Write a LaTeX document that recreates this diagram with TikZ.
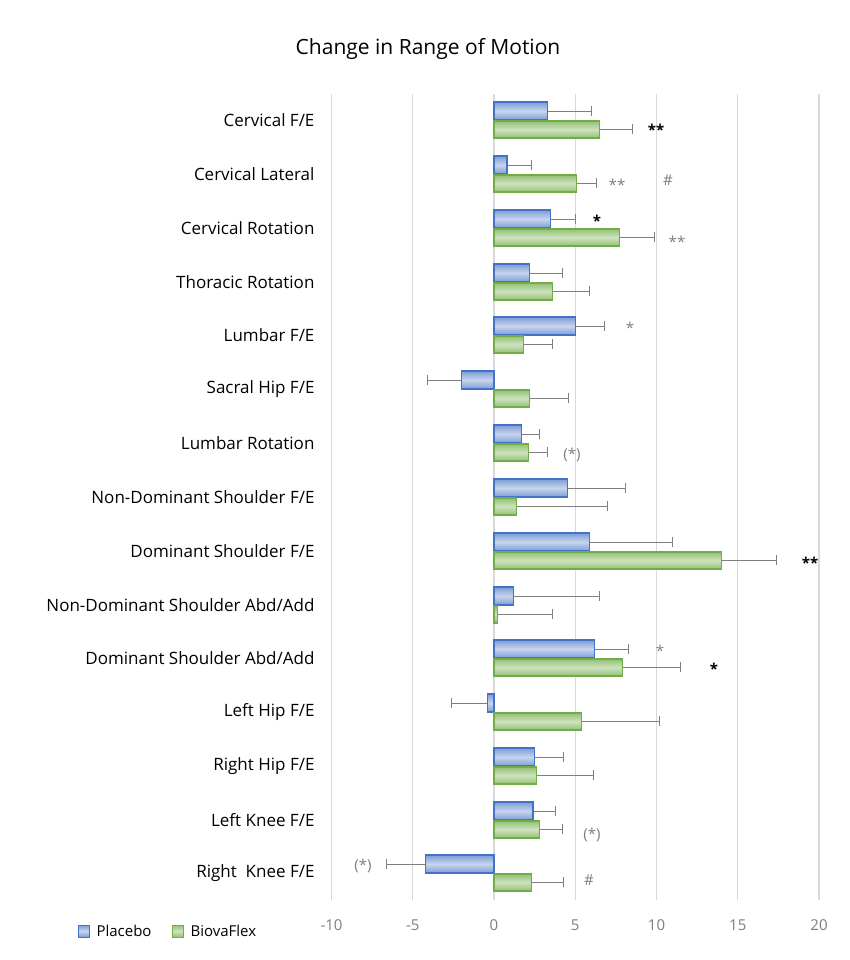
\documentclass[tikz,border=0pt]{standalone}
\usepackage{fontspec}
\setmainfont{Open Sans}
\definecolor{pb}{HTML}{4472C4}
\definecolor{gb}{HTML}{70AD47}
\definecolor{gr}{HTML}{7F7F7F}
\definecolor{gl}{HTML}{D9D9D9}
\tikzset{
 pbar/.style={draw=pb,line width=1.2pt,top color=pb!70,bottom color=pb!70,middle color=pb!30},
 gbar/.style={draw=gb,line width=1.2pt,top color=gb!75,bottom color=gb!75,middle color=gb!35},
 ebar/.style={draw=gr,line width=0.9pt},
 lab/.style={anchor=east,font=\fontsize{17}{20}\selectfont,text=black},
 sig/.style={font=\fontsize{15}{16}\selectfont},
}
\begin{document}
\begin{tikzpicture}[x=1pt,y=-1pt]
\useasboundingbox (0,0) rectangle (850,960);
\fill[white] (0,0) rectangle (850,960);
\node[font=\fontsize{21}{26}\selectfont] (title) at (428,49) {Change in Range of Motion};
\foreach \v in {-10,-5,...,20}{
 \draw[gl,line width=1.3pt] ({494+16.25*\v},94) -- ({494+16.25*\v},900);
 \node[text=gr,font=\fontsize{15}{18}\selectfont] at ({494+16.25*\v},925) {\v};
}
\foreach \c/\name/\p/\pe/\b/\be [count=\i] in {
120/{Cervical F/E}/3.3/6.0/6.5/8.5,
174/{Cervical Lateral}/0.8/2.3/5.1/6.3,
228/{Cervical Rotation}/3.5/5.0/7.7/9.9,
282/{Thoracic Rotation}/2.2/4.2/3.6/5.9,
335/{Lumbar F/E}/5.0/6.8/1.8/3.6,
389/{Sacral Hip F/E}/-2.0/-4.1/2.2/4.6,
443/{Lumbar Rotation}/1.7/2.8/2.1/3.3,
497/{Non-Dominant Shoulder F/E}/4.5/8.1/1.4/7.0,
551/{Dominant Shoulder F/E}/5.9/11.0/14.0/17.4,
605/{Non-Dominant Shoulder Abd/Add~}/1.2/6.5/0.2/3.6,
658/{Dominant Shoulder Abd/Add}/6.2/8.3/7.9/11.5,
712/{Left Hip F/E}/-0.4/-2.6/5.4/10.2,
766/{Right Hip F/E}/2.5/4.3/2.6/6.1,
820/{Left Knee F/E}/2.4/3.8/2.8/4.2,
873/{Right~ Knee F/E}/-4.2/-6.6/2.3/4.3}{
 \node[lab] (l\i) at (318,\c) {\name};
 \draw[ebar] ({494+16.25*\p},\c-9) -- ({494+16.25*\pe},\c-9) ({494+16.25*\pe},\c-14) -- ({494+16.25*\pe},\c-4);
 \draw[ebar] ({494+16.25*\b},\c+9) -- ({494+16.25*\be},\c+9) ({494+16.25*\be},\c+4) -- ({494+16.25*\be},\c+14);
 \draw[pbar] (494,\c-18) rectangle ({494+16.25*\p},\c);
 \draw[gbar] (494,\c+1) rectangle ({494+16.25*\b},\c+18);
}
\node[sig] at (656,130) {\textbf{**}};
\node[sig,text=gr] at (617,185) {**};
\node[sig,text=gr] at (668,180) {\#};
\node[sig] at (597,221) {\textbf{*}};
\node[sig,text=gr] at (677,242) {**};
\node[sig,text=gr] at (630,328) {*};
\node[sig,text=gr] at (572,455) {(*)};
\node[sig] at (810,563) {\textbf{**}};
\node[sig,text=gr] at (660,651) {*};
\node[sig] at (714,669) {\textbf{*}};
\node[sig,text=gr] at (592,835) {(*)};
\node[sig,text=gr] at (363,866) {(*)};
\node[sig,text=gr] at (589,880) {\#};
\draw[pbar,line width=0.9pt] (78,925) rectangle (89,937);
\node[anchor=west,font=\fontsize{15}{18}\selectfont] (lp) at (93,931) {Placebo};
\draw[gbar,line width=0.9pt] (172,925) rectangle (183,937);
\node[anchor=west,font=\fontsize{15}{18}\selectfont] (lb) at (187,931) {BiovaFlex};
\end{tikzpicture}
\end{document}
